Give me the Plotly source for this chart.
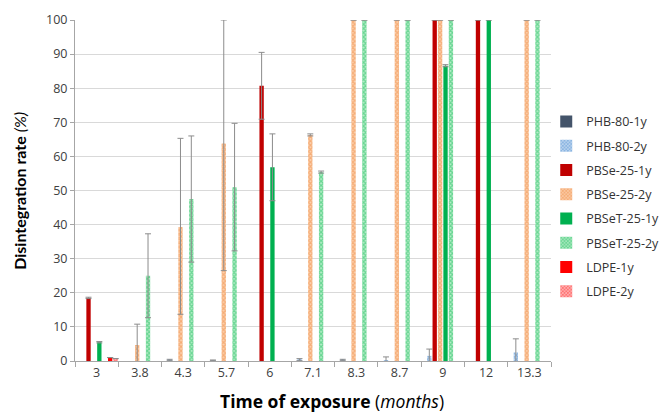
import plotly.graph_objects as go

categories = ["3", "3.8", "4.3", "5.7", "6", "7.1", "8.3", "8.7", "9", "12", "13.3"]

series_names = ["PHB-80-1y", "PHB-80-2y", "PBSe-25-1y", "PBSe-25-2y",
                "PBSeT-25-1y", "PBSeT-25-2y", "LDPE-1y", "LDPE-2y"]

phb_1y = [None] * 11
phb_1y_err = [0] * 11
phb_2y = [None, None, 0.3, 0.2, None, 0.4, 0.3, 0.1, 1.5, None, 2.5]
phb_2y_err = [0, 0, 0.2, 0.1, 0, 0.3, 0.2, 1.1, 2.0, 0, 4.0]
pbse_1y = [18.5, None, None, None, 80.7, None, None, None, 100, 100, None]
pbse_1y_err = [0.2, 0, 0, 0, 9.8, 0, 0, 0, 0, 0, 0]
pbse_2y = [None, 4.7, 39.3, 63.8, None, 66.3, 100, 100, 100, None, 100]
pbse_2y_err_plus = [0, 6.1, 26.0, 36.2, 0, 0.3, 0, 0, 0, 0, 0]
pbse_2y_err_minus = [0, 6.1, 25.6, 37.3, 0, 0.3, 0, 0, 0, 0, 0]
pbset_1y = [5.5, None, None, None, 56.8, None, None, None, 86.6, 100, None]
pbset_1y_err = [0.2, 0, 0, 0, 9.8, 0, 0, 0, 0.3, 0, 0]
pbset_2y = [None, 25.0, 47.5, 51.0, None, 55.4, 100, 100, 100, None, 100]
pbset_2y_err = [0, 12.3, 18.5, 18.7, 0, 0.3, 0, 0, 0, 0, 0]
ldpe_1y = [1.0] + [None] * 10
ldpe_1y_err = [0] * 11
ldpe_2y = [0.7] + [None] * 10
ldpe_2y_err = [0] * 11

values = [phb_1y, phb_2y, pbse_1y, pbse_2y, pbset_1y, pbset_2y, ldpe_1y, ldpe_2y]
err_plus = [phb_1y_err, phb_2y_err, pbse_1y_err, pbse_2y_err_plus,
            pbset_1y_err, pbset_2y_err, ldpe_1y_err, ldpe_2y_err]
err_minus = [phb_1y_err, phb_2y_err, pbse_1y_err, pbse_2y_err_minus,
             pbset_1y_err, pbset_2y_err, ldpe_1y_err, ldpe_2y_err]
colors = ["#44546A", "#4A8CD0", "#C00000", "#F08A40",
          "#00B050", "#1EC060", "#FF0000", "#FF2020"]
tints = [None, "#C9DDF2", None, "#FBD0AE", None, "#B5ECC7", None, "#FFC4C4"]
hatched = [False, True, False, True, False, True, False, True]

FONT = "Open Sans"

fig = go.Figure()
for name, y, ep, em, c, t, h in zip(series_names, values, err_plus, err_minus,
                                    colors, tints, hatched):
    marker = dict(color=c, line=dict(width=0))
    if h:
        marker = dict(color=t, line=dict(width=0),
                      pattern=dict(shape="x", fgcolor=c, bgcolor=t,
                                   size=3, solidity=0.65, fillmode="overlay"))
    fig.add_trace(go.Bar(
        name=name, x=categories, y=y, marker=marker, legendgroup=name,
        error_y=dict(type="data", array=ep, arrayminus=em, symmetric=False,
                     color="#8C8C8C", thickness=1, width=3),
    ))

fig.update_layout(
    width=667, height=414,
    margin=dict(l=75, r=116, t=20, b=53, autoexpand=False),
    paper_bgcolor="white", plot_bgcolor="white",
    barmode="group", bargap=0.0, bargroupgap=0.2,
    font=dict(family=FONT, size=12, color="#404040"),
    showlegend=True,
    legend=dict(x=0.99, y=0.745, xanchor="left", yanchor="top",
                font=dict(family=FONT, size=12.5, color="#333333"),
                tracegroupgap=5, itemwidth=30, bgcolor="rgba(0,0,0,0)"),
    xaxis=dict(
        type="category", showgrid=False, showline=True, linecolor="#A6A6A6",
        ticks="outside", tickson="boundaries", ticklen=5, tickcolor="#A6A6A6",
        tickfont=dict(family=FONT, size=12.5, color="#404040"),
    ),
    yaxis=dict(
        range=[0, 100], dtick=10, showgrid=True, gridcolor="#D9D9D9",
        showline=True, linecolor="#A6A6A6", ticks="outside", ticklen=4,
        tickcolor="#A6A6A6", zeroline=False,
        tickfont=dict(family=FONT, size=12.5, color="#404040"),
    ),
    annotations=[
        dict(text="<b>Time of exposure</b> (<i>months</i>)", xref="paper", yref="paper",
             x=0.54, y=-0.117, xanchor="center", yanchor="middle", showarrow=False,
             font=dict(family=FONT, size=17.5, color="#000000")),
        dict(text="<b>Disintegration rate</b> <i>(%)</i>", xref="paper", yref="paper",
             x=-0.117, y=0.5, xanchor="center", yanchor="middle", showarrow=False,
             textangle=-90, font=dict(family="Lato", size=16, color="#000000")),
    ],
)

fig.write_html("out.html", config={"displayModeBar": False},
               post_script="document.body.style.margin='0';document.body.style.padding='0';")
